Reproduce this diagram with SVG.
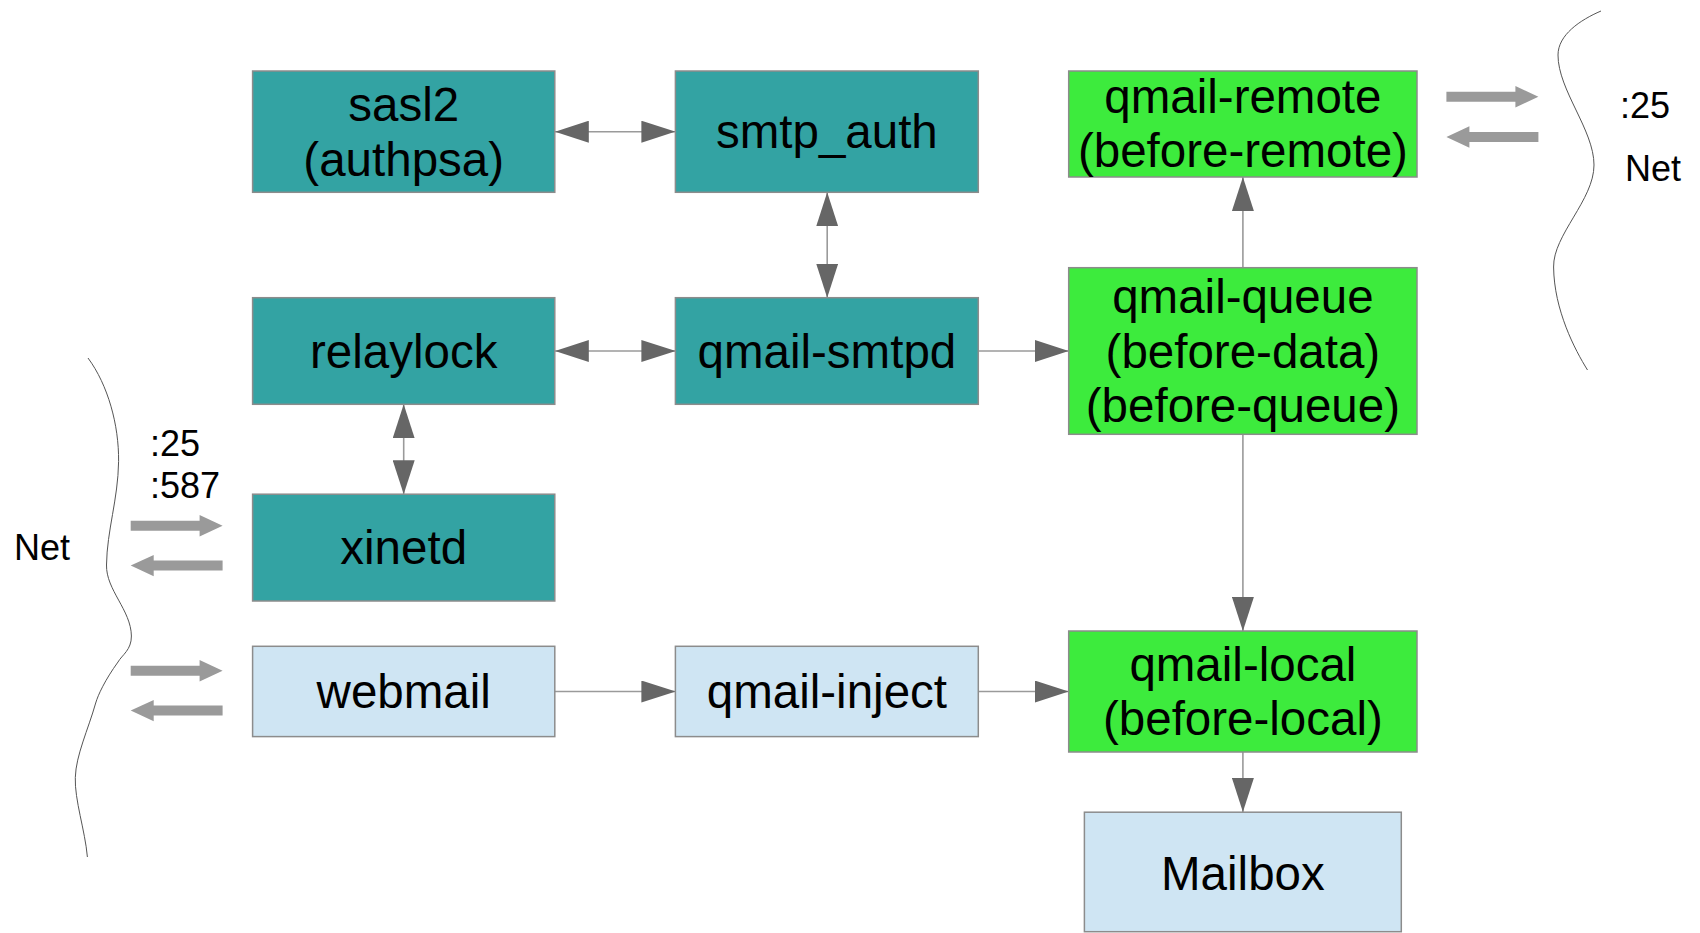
<svg xmlns="http://www.w3.org/2000/svg" width="1700" height="933" viewBox="0 0 1700 933">
<style>
.box{stroke:#8c8c8c;stroke-width:1.5}
.teal{fill:#33a3a3}
.green{fill:#3deb3d}
.blue{fill:#cfe5f3}
.t{font-family:"Liberation Sans",Arial,sans-serif;font-size:47.5px;fill:#000;text-anchor:middle}
.s{font-family:"Liberation Sans",Arial,sans-serif;font-size:36px;fill:#000}
.c{stroke:#9a9a9a;stroke-width:1.6;fill:none}
.fat{fill:#9a9a9a}
.brace{stroke:#555;stroke-width:1;fill:none}
</style>
<defs>
<marker id="ah" markerUnits="userSpaceOnUse" markerWidth="34" markerHeight="22" refX="34" refY="11" orient="auto-start-reverse">
<path d="M0,0 L34,11 L0,22 z" fill="#666"/>
</marker>
</defs>
<rect width="1700" height="933" fill="#fff"/>

<g id="connectors">
<line class="c" x1="554.8" y1="131.7" x2="675.4" y2="131.7" marker-start="url(#ah)" marker-end="url(#ah)"/>
<line class="c" x1="827.2" y1="192.3" x2="827.2" y2="297.7" marker-start="url(#ah)" marker-end="url(#ah)"/>
<line class="c" x1="554.8" y1="351" x2="675.4" y2="351" marker-start="url(#ah)" marker-end="url(#ah)"/>
<line class="c" x1="403.7" y1="404.3" x2="403.7" y2="494.2" marker-start="url(#ah)" marker-end="url(#ah)"/>
<line class="c" x1="978.3" y1="351" x2="1068.7" y2="351" marker-end="url(#ah)"/>
<line class="c" x1="1242.9" y1="267.7" x2="1242.9" y2="177" marker-end="url(#ah)"/>
<line class="c" x1="1242.9" y1="434.3" x2="1242.9" y2="631" marker-end="url(#ah)"/>
<line class="c" x1="554.8" y1="691.5" x2="675.4" y2="691.5" marker-end="url(#ah)"/>
<line class="c" x1="978.3" y1="691.5" x2="1068.7" y2="691.5" marker-end="url(#ah)"/>
<line class="c" x1="1242.9" y1="752" x2="1242.9" y2="812" marker-end="url(#ah)"/>
</g>

<g id="sasl2"><rect class="box teal" x="252.6" y="71" width="302.2" height="121.3"/>
<text class="t" x="403.7" y="120.9">sasl2</text><text class="t" x="403.7" y="175.5">(authpsa)</text></g>
<g id="smtp_auth"><rect class="box teal" x="675.4" y="71" width="302.9" height="121.3"/>
<text class="t" x="826.9" y="148.2">smtp_auth</text></g>
<g id="relaylock"><rect class="box teal" x="252.6" y="297.7" width="302.2" height="106.6"/>
<text class="t" x="403.7" y="367.5">relaylock</text></g>
<g id="qmail-smtpd"><rect class="box teal" x="675.4" y="297.7" width="302.9" height="106.6"/>
<text class="t" x="826.9" y="367.5">qmail-smtpd</text></g>
<g id="xinetd"><rect class="box teal" x="252.6" y="494.2" width="302.2" height="106.8"/>
<text class="t" x="403.7" y="564">xinetd</text></g>
<g id="webmail"><rect class="box blue" x="252.6" y="646.3" width="302.2" height="90.3"/>
<text class="t" x="403.7" y="708">webmail</text></g>
<g id="qmail-inject"><rect class="box blue" x="675.4" y="646.3" width="302.9" height="90.3"/>
<text class="t" x="826.9" y="708">qmail-inject</text></g>
<g id="qmail-remote"><rect class="box green" x="1068.7" y="71" width="348.3" height="106"/>
<text class="t" x="1242.9" y="112.7">qmail-remote</text><text class="t" x="1242.9" y="167.3">(before-remote)</text></g>
<g id="qmail-queue"><rect class="box green" x="1068.7" y="267.7" width="348.3" height="166.6"/>
<text class="t" x="1242.9" y="312.9">qmail-queue</text><text class="t" x="1242.9" y="367.5">(before-data)</text><text class="t" x="1242.9" y="422.1">(before-queue)</text></g>
<g id="qmail-local"><rect class="box green" x="1068.7" y="631" width="348.3" height="121"/>
<text class="t" x="1242.9" y="680.7">qmail-local</text><text class="t" x="1242.9" y="735.3">(before-local)</text></g>
<g id="mailbox"><rect class="box blue" x="1084.4" y="812.2" width="316.9" height="119.5"/>
<text class="t" x="1242.9" y="889.5">Mailbox</text></g>

<g id="net-left">
<path class="brace" d="M88,358 C108,385 119,425 118.6,461.5 C118,500 107,530 106.5,565 C106,590 131,610 131.4,636 C131.5,650 122,655 118,662 C105,680 98,695 95.7,703 C88,730 76,755 75.3,777.5 C74.5,800 85,830 87.4,857"/>
<text class="s" x="150" y="455.5">:25</text>
<text class="s" x="150" y="497.5">:587</text>
<text class="s" x="14" y="559.5">Net</text>
<polygon class="fat" points="130.7,520.7 199.6,520.7 199.6,515 222.6,525.7 199.6,536.4 199.6,530.7 130.7,530.7"/>
<polygon class="fat" points="222.6,560.6 153.7,560.6 153.7,554.9 130.7,565.6 153.7,576.3 153.7,570.6 222.6,570.6"/>
<polygon class="fat" points="130.7,665.8 199.6,665.8 199.6,660.1 222.6,670.8 199.6,681.5 199.6,675.8 130.7,675.8"/>
<polygon class="fat" points="222.6,705.6 153.7,705.6 153.7,699.9 130.7,710.6 153.7,721.3 153.7,715.6 222.6,715.6"/>
</g>

<g id="net-right">
<path class="brace" d="M1601,11 C1580,20 1558,35 1558,55 C1558,90 1594,130 1594,165 C1594,200 1553,235 1553.6,267 C1554,310 1575,350 1587.5,370"/>
<text class="s" x="1620" y="118">:25</text>
<text class="s" x="1625" y="181">Net</text>
<polygon class="fat" points="1446.4,91.7 1515.4,91.7 1515.4,86 1538.4,96.7 1515.4,107.4 1515.4,101.7 1446.4,101.7"/>
<polygon class="fat" points="1538.4,132 1469.4,132 1469.4,126.3 1446.4,137 1469.4,147.7 1469.4,142 1538.4,142"/>
</g>
</svg>
